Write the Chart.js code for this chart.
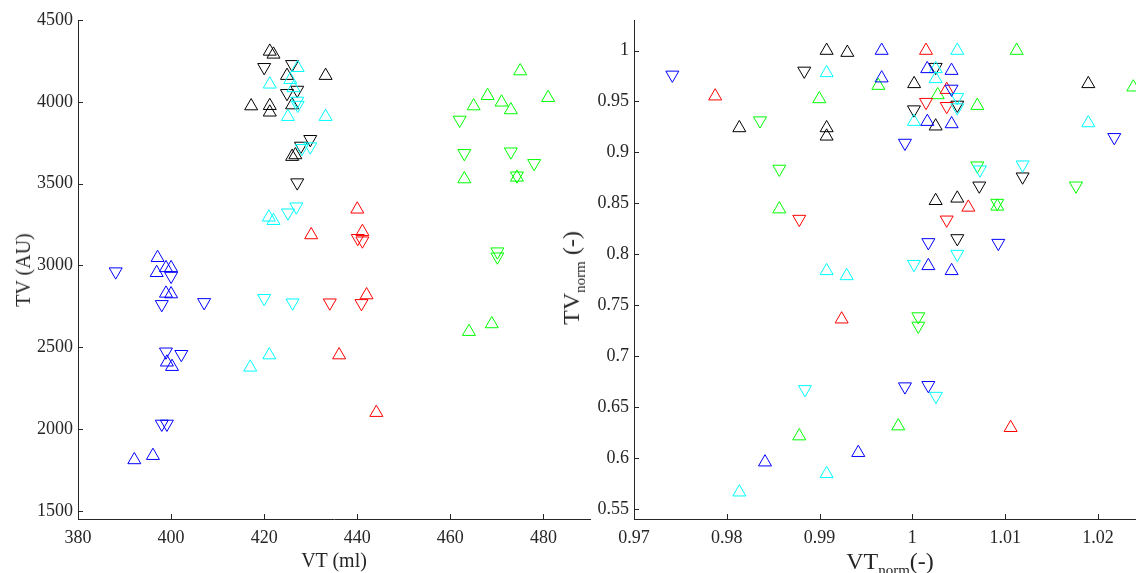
<!DOCTYPE html>
<html>
<head>
<meta charset="utf-8">
<script src="https://cdn.jsdelivr.net/npm/chart.js@4.4.0/dist/chart.umd.min.js"></script>
<style>
  html, body { margin: 0; padding: 0; background: #fff; overflow: hidden; }
  #page { position: relative; width: 1136px; height: 573px; font-family: 'Liberation Serif', 'Times New Roman', serif; color: #262626; }
  .box { position: absolute; top: 0; height: 573px; }
  #leftBox { left: 0; width: 600px; }
  #rightBox { left: 570px; width: 566px; }
  .label { position: absolute; white-space: nowrap; line-height: 1; }
  .label sub { font-size: 15px; vertical-align: -6px; line-height: 0; }
  .rot { transform: translate(-50%, -50%) rotate(-90deg); }
  .hc { transform: translateX(-50%); }
</style>
</head>
<body>
<div id="page">
  <div class="box" id="leftBox"><canvas id="leftChart"></canvas></div>
  <div class="box" id="rightBox"><canvas id="rightChart"></canvas></div>
  <div class="label hc" style="left:334px; top:550px; font-size:20px;">VT (ml)</div>
  <div class="label rot" style="left:23px; top:270px; font-size:20px;">TV (AU)</div>
  <div class="label hc" style="left:890px; top:549px; font-size:24px;">VT<sub>norm</sub>(-)</div>
  <div class="label rot" style="left:571px; top:278px; font-size:24px;">TV<sub>norm</sub> (-)</div>
</div>
<script>
// tick labels
const leftXTicks = [380, 400, 420, 440, 460, 480];
const leftYTicks = [1500, 2000, 2500, 3000, 3500, 4000, 4500];
const rightXTicks = [0.97, 0.98, 0.99, 1, 1.01, 1.02];
const rightYTicks = [0.55, 0.6, 0.65, 0.7, 0.75, 0.8, 0.85, 0.9, 0.95, 1];

// left panel: [VT (ml), TV (AU)]
const blueUp = [[397.1,3047],[396.9,2955],[398.9,2985],[400.0,2985],[398.9,2829],[400.0,2825],[399.1,2408],[400.2,2381],[392.1,1811],[396.1,1837]];
const blueDown = [[388.1,2962],[400.0,2935],[398.0,2762],[407.1,2774],[398.9,2472],[402.2,2457],[398.0,2031],[399.1,2031]];
const cyanUp = [[427.2,4208],[421.2,4107],[425.6,4135],[426.3,4085],[425.1,3909],[433.2,3909],[421.0,3294],[422.0,3273],[417.0,2377],[421.1,2452]];
const cyanDown = [[427.1,4005],[427.2,3980],[429.9,3726],[428.1,3716],[425.1,3322],[426.9,3359],[420.0,2799],[426.1,2772]];
const blackUp = [[421.2,4308],[422.0,4290],[424.9,4160],[433.2,4160],[426.0,3980],[417.2,3974],[421.2,3976],[421.2,3936],[426.0,3665],[426.7,3675]];
const blackDown = [[420.0,4211],[426.0,4229],[424.9,4052],[427.1,4072],[429.9,3771],[427.9,3730],[427.1,3506]];
const redUp = [[440.0,3343],[430.1,3186],[441.1,3206],[442.0,2819],[436.1,2452],[444.1,2100]];
const redDown = [[440.1,3166],[441.1,3151],[434.1,2772],[440.9,2768]];
const greenUp = [[475.0,4188],[468.0,4037],[465.0,3974],[471.0,3997],[473.0,3950],[481.0,4025],[463.0,3528],[474.3,3538],[464.0,2595],[468.9,2642]];
const greenDown = [[462.0,3889],[463.0,3685],[473.0,3695],[478.0,3624],[474.3,3548],[470.1,3084],[470.1,3053]];

// right panel: [VT norm, TV norm]
const blueUpN = [[0.99669,1.0],[1.0016,0.982],[1.00422,0.9803],[0.99669,0.9729],[1.00161,0.9302],[1.00423,0.9279],[1.00172,0.7886],[1.00423,0.7837],[0.98412,0.5958],[0.99417,0.6051]];
const blueDownN = [[0.97413,0.9761],[1.00422,0.9623],[0.9992,0.9092],[1.02176,0.9148],[1.00172,0.8116],[1.00926,0.8109],[0.9992,0.67],[1.00172,0.6713]];
const cyanUpN = [[0.99076,0.9781],[1.00484,1.0],[1.00251,0.9722],[1.00251,0.982],[1.00017,0.9302],[1.01896,0.9289],[0.99076,0.7837],[0.99292,0.7787],[0.98135,0.5663],[0.99076,0.5844]];
const cyanDownN = [[0.98843,0.6673],[1.00484,0.9542],[1.00484,0.944],[1.00728,0.883],[1.01188,0.8879],[1.00484,0.8001],[1.00017,0.7902],[1.00254,0.6607]];
const blackUpN = [[0.99076,1.0],[0.99299,0.998],[0.99076,0.924],[0.99076,0.9158],[0.98135,0.924],[1.00019,0.9673],[1.01896,0.9673],[1.00251,0.9257],[1.00251,0.8525],[1.00484,0.8549]];
const blackDownN = [[0.98835,0.98],[1.00251,0.9837],[1.00484,0.9466],[1.00017,0.942],[1.01188,0.8761],[1.00721,0.8672],[1.00484,0.8155]];
const redUpN = [[0.97875,0.9552],[1.00147,1.0],[1.0037,0.9616],[1.00603,0.846],[0.99238,0.7362],[1.01059,0.6296]];
const redDownN = [[1.00147,0.9493],[1.0037,0.9453],[0.98781,0.8345],[1.0037,0.8338]];
const greenUpN = [[0.98997,0.9525],[0.98566,0.8443],[0.98781,0.6214],[1.01124,1.0],[0.99633,0.9656],[1.02381,0.964],[1.00273,0.9564],[1.007,0.9459],[0.99848,0.6312],[1.00915,0.847]];
const greenDownN = [[0.98358,0.9312],[0.98566,0.8837],[1.007,0.8869],[1.01763,0.8672],[1.00064,0.7388],[1.00064,0.7296],[1.00915,0.8502]];

const AXIS = '#262626';
Chart.defaults.font.family = "'Liberation Serif', 'Times New Roman', serif";
Chart.defaults.font.size = 18;
Chart.defaults.color = AXIS;

// MATLAB style ticks pointing into the plot
const inwardTicks = {
  id: 'inwardTicks',
  beforeDatasetsDraw(chart) {
    const { ctx, chartArea: a, scales } = chart;
    ctx.save();
    ctx.strokeStyle = AXIS;
    ctx.lineWidth = 1;
    ctx.beginPath();
    scales.x.ticks.forEach(t => {
      const px = Math.round(scales.x.getPixelForValue(t.value)) + 0.5;
      ctx.moveTo(px, a.bottom);
      ctx.lineTo(px, a.bottom - 5);
    });
    scales.y.ticks.forEach(t => {
      const py = Math.round(scales.y.getPixelForValue(t.value)) + 0.5;
      ctx.moveTo(a.left, py);
      ctx.lineTo(a.left + 5, py);
    });
    ctx.stroke();
    ctx.restore();
  }
};

function makeSet(points, color, down) {
  return {
    data: points.map(p => ({ x: p[0], y: p[1] })),
    pointStyle: 'triangle',
    pointRotation: down ? 180 : 0,
    pointRadius: 7.5,
    pointBorderColor: color,
    pointBackgroundColor: 'rgba(0,0,0,0)',
    pointBorderWidth: 1,
    clip: false
  };
}

function makeAxis(min, max, tickValues, pad, fit) {
  return {
    type: 'linear',
    min: min,
    max: max,
    afterBuildTicks: s => { s.ticks = tickValues.map(v => ({ value: v })); },
    afterFit: fit,
    grid: { display: false, drawTicks: false },
    border: { display: true, color: AXIS, width: 1 },
    ticks: { padding: pad, color: AXIS, callback: v => String(v) }
  };
}

function drawPanel(id, sets, xr, yr, xTicks, yTicks, yWidth, padRight) {
  new Chart(document.getElementById(id), {
    type: 'scatter',
    data: { datasets: sets },
    options: {
      responsive: true,
      maintainAspectRatio: false,
      animation: false,
      events: [],
      layout: { autoPadding: false, padding: { top: 20, right: padRight, left: 0, bottom: 0 } },
      plugins: { legend: { display: false }, tooltip: { enabled: false } },
      scales: {
        x: makeAxis(xr[0], xr[1], xTicks, 8, s => { s.height = 54; }),
        y: makeAxis(yr[0], yr[1], yTicks, 5, s => { s.width = yWidth; })
      }
    },
    plugins: [inwardTicks]
  });
}

drawPanel('leftChart', [
  makeSet(blueUp, '#0000ff', false), makeSet(blueDown, '#0000ff', true),
  makeSet(cyanUp, '#00ffff', false), makeSet(cyanDown, '#00ffff', true),
  makeSet(redUp, '#ff0000', false), makeSet(redDown, '#ff0000', true),
  makeSet(greenUp, '#00ff00', false), makeSet(greenDown, '#00ff00', true),
  makeSet(blackUp, '#000000', false), makeSet(blackDown, '#000000', true)
], [380, 490], [1450, 4500], leftXTicks, leftYTicks, 78, 10);

drawPanel('rightChart', [
  makeSet(blueUpN, '#0000ff', false), makeSet(blueDownN, '#0000ff', true),
  makeSet(cyanUpN, '#00ffff', false), makeSet(cyanDownN, '#00ffff', true),
  makeSet(redUpN, '#ff0000', false), makeSet(redDownN, '#ff0000', true),
  makeSet(greenUpN, '#00ff00', false), makeSet(greenDownN, '#00ff00', true),
  makeSet(blackUpN, '#000000', false), makeSet(blackDownN, '#000000', true)
], [0.97, 1.0241], [0.54, 1.03], rightXTicks, rightYTicks, 64, 0);
</script>
</body>
</html>
